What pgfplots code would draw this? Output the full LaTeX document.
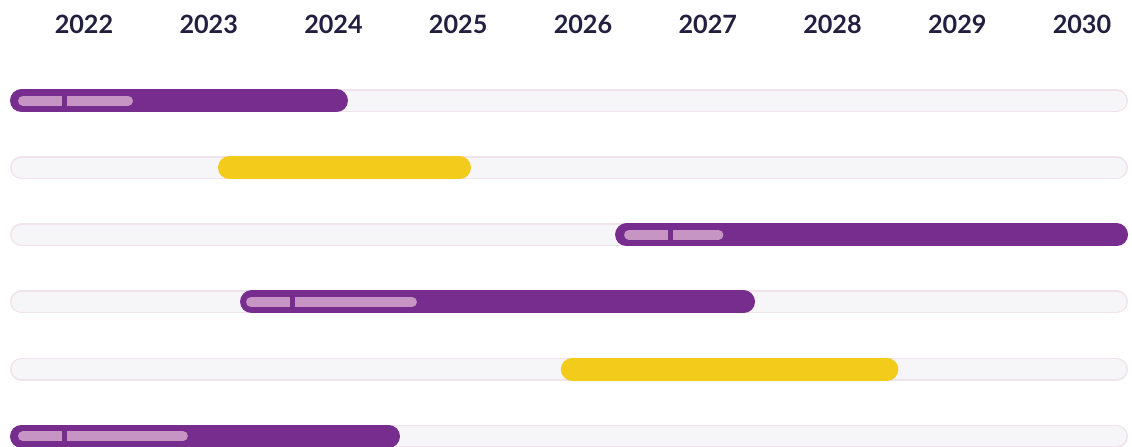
\documentclass[border=0pt]{standalone}
\usepackage{pgfplots}
\pgfplotsset{compat=1.18}
\usepackage{fontspec}
\setmainfont{Lato}

\definecolor{ink}{HTML}{231F40}
\definecolor{plum}{HTML}{772D8E}
\definecolor{sun}{HTML}{F3CB1B}
\definecolor{pill}{HTML}{C795C4}
\definecolor{trackfill}{HTML}{F6F5F8}
\definecolor{trackedge}{HTML}{F1E3EC}

% bars: visible start and end (years); caps are pulled in by their radius
\pgfplotsset{
  track/.style={no marks, line cap=round, line width=11.5pt, trackedge,
    shorten <=5.75pt, shorten >=5.75pt, forget plot},
  trackin/.style={no marks, line cap=round, line width=10pt, trackfill,
    shorten <=5.75pt, shorten >=5.75pt, forget plot},
  bar/.style={no marks, line cap=round, line width=11.5pt, #1,
    shorten <=5.75pt, shorten >=5.75pt, forget plot},
  sub/.style={no marks, line cap=round, line width=5pt, pill,
    shorten <=2.5pt, shorten >=2.5pt, forget plot},
  cut/.style={no marks, line width=2.5pt, plum, forget plot},
}

\begin{document}
\begin{tikzpicture}
\begin{axis}[
  width=566pt, height=223pt, scale only axis,
  clip bounding box=upper bound,
  xmin=2021.3267, xmax=2030.4008,
  ymin=-0.4978, ymax=6.149, y dir=reverse,
  axis line style={draw=none},
  ytick=\empty,
  xtick={2022,2023,...,2030},
  major tick length=0pt,
  xticklabel pos=upper,
  xticklabel style={font=\bfseries\fontsize{12.6}{14}\selectfont, text=ink,
    anchor=base, yshift=-16.65pt},
  /pgf/number format/1000 sep={},
  /pgf/number format/assume math mode=true,
]
% tracks
\foreach \r in {1,...,6} {
  \addplot[track] coordinates {(2021.407,\r) (2030.369,\r)};
  \addplot[trackin] coordinates {(2021.407,\r) (2030.369,\r)};
}
% row 1
\addplot[bar=plum] coordinates {(2021.407,1) (2024.116,1)};
\addplot[sub] coordinates {(2021.471,1) (2022.393,1)};
\addplot[cut] coordinates {(2021.840,0.9) (2021.840,1.1)};
% row 2
\addplot[bar=sun] coordinates {(2023.074,2) (2025.102,2)};
% row 3
\addplot[bar=plum] coordinates {(2026.257,3) (2030.369,3)};
\addplot[sub] coordinates {(2026.329,3) (2027.126,3)};
\addplot[cut] coordinates {(2026.705,2.9) (2026.705,3.1)};
% row 4
\addplot[bar=plum] coordinates {(2023.251,4) (2027.379,4)};
\addplot[sub] coordinates {(2023.299,4) (2024.669,4)};
\addplot[cut] coordinates {(2023.675,3.9) (2023.675,4.1)};
% row 5
\addplot[bar=sun] coordinates {(2025.822,5) (2028.528,5)};
% row 6
\addplot[bar=plum] coordinates {(2021.407,6) (2024.533,6)};
\addplot[sub] coordinates {(2021.471,6) (2022.833,6)};
\addplot[cut] coordinates {(2021.840,5.9) (2021.840,6.1)};
\end{axis}
\end{tikzpicture}
\end{document}
